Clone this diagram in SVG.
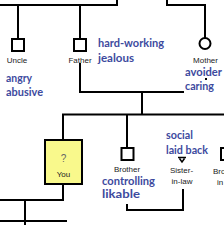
<svg xmlns="http://www.w3.org/2000/svg" width="224" height="225" viewBox="0 0 224 225">
<style>
.ln{fill:none;stroke:#000;stroke-width:2}
.nd{fill:#fff;stroke:#000;stroke-width:2}
.lb{font-family:"Liberation Sans",Arial,sans-serif;font-size:8px;fill:#222;text-anchor:middle}
.tr{font-family:Lato,"Liberation Sans",sans-serif;font-size:11.5px;font-weight:bold;fill:#3d4a9e}
</style>
<rect width="224" height="225" fill="#fff"/>
<g id="connectors">
<path class="ln" d="M0,5H117V0"/>
<path class="ln" d="M167,0V5H205V38"/>
<path class="ln" d="M18,5V39"/>
<path class="ln" d="M80,5V39"/>
<path class="ln" d="M80,63V92H184"/>
<path class="ln" d="M206,78V80"/>
<path class="ln" d="M142,92V114.5"/>
<path class="ln" d="M63,140V114.5H224"/>
<path class="ln" d="M127,114.5V148"/>
<path class="ln" d="M63,184V200H0"/>
<path class="ln" d="M25,200V225"/>
<path class="ln" d="M0,221H67"/>
<path class="ln" d="M127,204V210H183V189"/>
<path class="ln" d="M227,114.5V148"/>
<path d="M178,157.5H186M179.5,158.5L182,162L184.5,158.5" fill="none" stroke="#000" stroke-width="1.5"/>
</g>
<g id="uncle">
<rect class="nd" x="12" y="39" width="12" height="12"/>
<text class="lb" x="17" y="63">Uncle</text>
<text class="tr" x="6" y="82" textLength="26" lengthAdjust="spacingAndGlyphs">angry</text>
<text class="tr" x="6" y="96" textLength="37" lengthAdjust="spacingAndGlyphs">abusive</text>
</g>
<g id="father">
<rect class="nd" x="74" y="39" width="12" height="12"/>
<text class="lb" x="80" y="63">Father</text>
<text class="tr" x="98" y="47" textLength="66" lengthAdjust="spacingAndGlyphs">hard-working</text>
<text class="tr" x="98" y="62" textLength="36" lengthAdjust="spacingAndGlyphs">jealous</text>
</g>
<g id="mother">
<circle class="nd" cx="205" cy="43.5" r="5.5"/>
<text class="lb" x="205.5" y="63">Mother</text>
<text class="tr" x="185" y="76" textLength="37" lengthAdjust="spacingAndGlyphs">avoider</text>
<text class="tr" x="185" y="90" textLength="29" lengthAdjust="spacingAndGlyphs">caring</text>
</g>
<g id="you">
<rect x="45" y="140" width="37" height="44" fill="#f9f98c" stroke="#000" stroke-width="2"/>
<text class="lb" x="63.5" y="162" style="font-size:10px;fill:#666">?</text>
<text class="lb" x="63.5" y="177">You</text>
</g>
<g id="brother">
<rect class="nd" x="121.5" y="148" width="12" height="12"/>
<text class="lb" x="127" y="172">Brother</text>
<text class="tr" x="102" y="185" textLength="53" lengthAdjust="spacingAndGlyphs">controlling</text>
<text class="tr" x="102" y="198" textLength="38" lengthAdjust="spacingAndGlyphs">likable</text>
</g>
<g id="sister-in-law">
<text class="tr" x="166" y="139" textLength="27" lengthAdjust="spacingAndGlyphs">social</text>
<text class="tr" x="166" y="154" textLength="42" lengthAdjust="spacingAndGlyphs">laid back</text>
<text class="lb" x="181.5" y="173">Sister-</text>
<text class="lb" x="182" y="184">in-law</text>
</g>
<g id="brother2">
<rect class="nd" x="221" y="148" width="12" height="12"/>
<text class="lb" x="213" y="174" style="text-anchor:start">Bro</text>
<text class="lb" x="217" y="185" style="text-anchor:start">in</text>
</g>
</svg>
